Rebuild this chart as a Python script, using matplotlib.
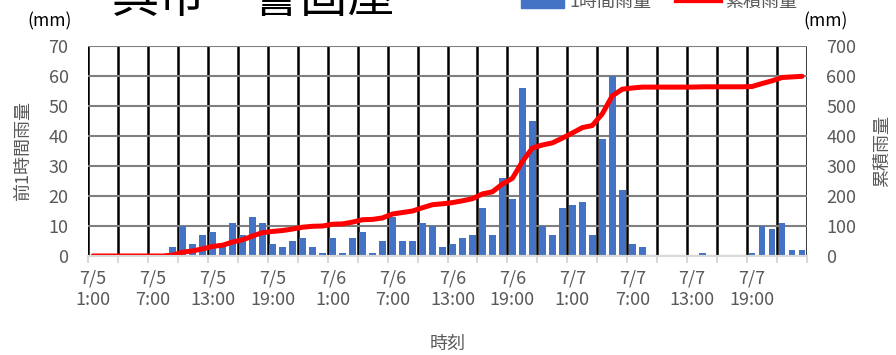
import numpy as np
import pandas as pd
import matplotlib
matplotlib.use("Agg")
import matplotlib.pyplot as plt
from matplotlib.patches import Patch
from matplotlib.lines import Line2D

plt.rcParams['font.family'] = ['Noto Sans CJK JP', 'DejaVu Sans']

# hourly rainfall (mm), 7/5 1:00 .. 7/8 0:00
rain = [0, 0, 0, 0, 0, 0, 0, 0, 3, 10, 4, 7, 8, 4, 11, 7, 13, 11,
        4, 3, 5, 6, 3, 1, 6, 1, 6, 8, 1, 5,
        13, 5, 5, 11, 10, 3, 4, 6, 7, 16, 7,
        26, 19, 56, 45, 10, 7, 16, 17, 18, 7,
        39, 60, 22, 4, 3, 0, 0, 0, 0, 0, 1, 0, 0, 0, 0,
        1, 10, 9, 11, 2, 2]
times = pd.date_range("2018-07-05 01:00", periods=len(rain), freq="h")
tick_labels = [f"{t.month}/{t.day}\n{t.hour}:00" for t in times]

total = np.cumsum(rain)

gray = '#595959'
x = np.arange(len(rain))

fig = plt.figure(figsize=(8.96, 3.55), dpi=100)
ax = fig.add_axes([0.0982, 0.2789, 0.8025, 0.5915])
ax2 = ax.twinx()

ax.bar(x, rain, width=0.68, color='#4472C4', zorder=2)
ax2.plot(x, total, color='#FF0000', lw=3.6, solid_capstyle='round')

ax.set_xlim(-0.5, len(rain) - 0.5)
ax.set_ylim(0, 70)
ax2.set_ylim(0, 700)
ax.set_yticks(range(0, 71, 10))
ax2.set_yticks(range(0, 701, 100))

ax.set_xticks(x[::6])
ax.set_xticklabels(tick_labels[::6])
ax.set_xticks(np.arange(-0.5, len(rain), 3), minor=True)
ax.tick_params(axis='x', which='major', length=0, pad=10, labelsize=13, labelcolor=gray)
ax.tick_params(axis='x', which='minor', length=5, width=1.5, color='#d9d9d9')
ax.tick_params(axis='y', length=0, pad=14, labelsize=13, labelcolor=gray)
ax2.tick_params(axis='y', length=0, pad=14, labelsize=13, labelcolor=gray)

ax.set_axisbelow(True)
ax.grid(axis='y', which='major', color='#7f7f7f', lw=1.5)
ax.grid(axis='x', which='minor', color='black', lw=1.8)
ax.grid(axis='x', which='major', visible=False)

for a in (ax, ax2):
    for s in ('top', 'left', 'right'):
        a.spines[s].set_visible(False)
    a.spines['bottom'].set_color('#d9d9d9')
    a.spines['bottom'].set_linewidth(1.5)

ax.set_ylabel('前1時間雨量', fontsize=13, color=gray, labelpad=12)
ax2.set_ylabel('累積雨量', fontsize=13, color=gray, labelpad=12)
ax.set_xlabel('時刻', fontsize=13, color=gray, labelpad=19)

fig.text(50 / 896, 1 - 21 / 355, '(mm)', fontsize=12.5, ha='center', va='center')
fig.text(826 / 896, 1 - 21 / 355, '(mm)', fontsize=12.5, ha='center', va='center')

fig.text(254 / 896, 1 - 12 / 355, '呉市－警固屋', fontsize=34, ha='center', va='baseline')

handles = [Patch(color='#4472C4'), Line2D([], [], color='#FF0000', lw=4.5)]
fig.legend(handles, ['1時間雨量', '累積雨量'], loc='center', ncol=2,
           bbox_to_anchor=(659 / 896, 1 - 2 / 355), frameon=False,
           fontsize=13, labelcolor=gray, handlelength=2.4, handleheight=0.9,
           handletextpad=0.3, columnspacing=1.4)

fig.savefig('out.png', dpi=100)
